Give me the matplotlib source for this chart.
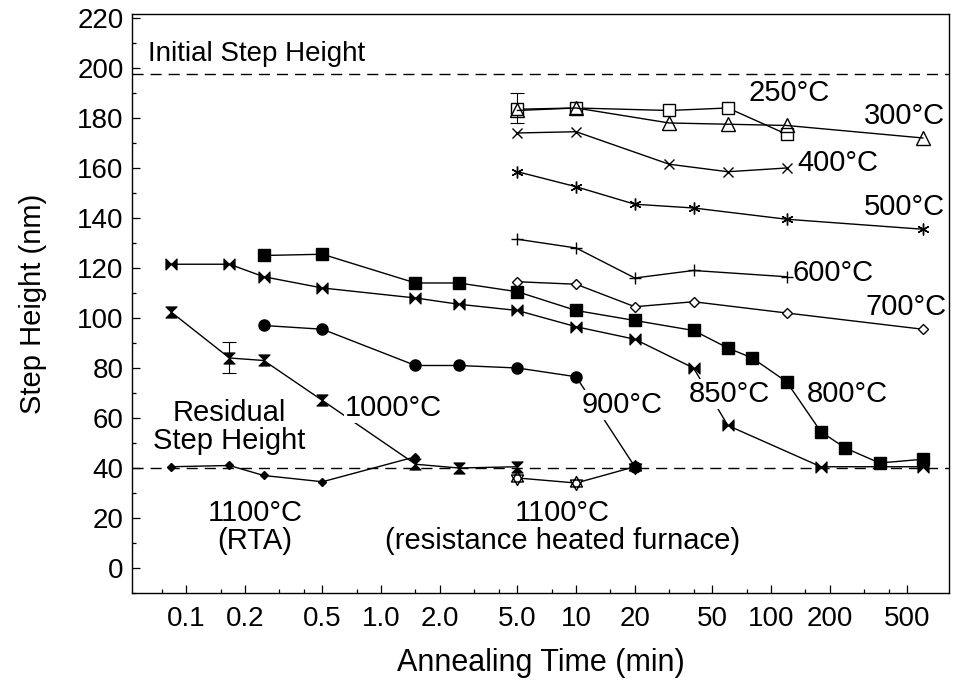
import matplotlib
matplotlib.use("Agg")
import matplotlib.pyplot as plt
from matplotlib.path import Path
from matplotlib.ticker import FixedLocator, NullFormatter
import numpy as np

plt.rcParams['font.family'] = ['Liberation Sans', 'DejaVu Sans']

# ---- data: annealing time (min) and step height (nm) ----
t_250 = [5, 10, 30, 60, 120]
h_250 = [183.5, 184, 183, 184, 173.5]

t_300 = [5, 10, 30, 60, 120, 600]
h_300 = [183, 184, 178, 177.5, 177, 172]

t_400 = [5, 10, 30, 60, 120]
h_400 = [174, 174.5, 161.5, 158.5, 160]

t_500 = [5, 10, 20, 40, 120, 600]
h_500 = [158.5, 152.5, 145.5, 144, 139.5, 135.5]

t_600 = [5, 10, 20, 40, 120]
h_600 = [131.5, 128, 116, 119, 116.5]

t_700 = [5, 10, 20, 40, 120, 600]
h_700 = [114.5, 113.5, 104.5, 106.5, 102, 95.5]

t_800 = [0.25, 0.5, 1.5, 2.5, 5, 10, 20, 40, 60, 80, 120, 180, 240, 360, 600]
h_800 = [125, 125.5, 114, 114, 110.5, 103, 99, 95, 88, 84, 74.5, 54.5, 48, 42, 43.5]

t_850 = [1/12, 1/6, 0.25, 0.5, 1.5, 2.5, 5, 10, 20, 40, 60, 180, 600]
h_850 = [121.5, 121.5, 116.5, 112, 108, 105.5, 103, 96.5, 91.5, 80, 57, 40.5, 40.5]

t_900 = [0.25, 0.5, 1.5, 2.5, 5, 10, 20]
h_900 = [97, 95.5, 81, 81, 80, 76.5, 40.5]

t_1000 = [1/12, 1/6, 0.25, 0.5, 1.5, 2.5, 5]
h_1000 = [102.5, 84, 83, 67, 41.5, 40, 40.5]

t_1100_rta = [1/12, 1/6, 0.25, 0.5, 1.5]
h_1100_rta = [40.5, 41, 37, 34.5, 44.5]

t_1100_furnace = [5, 10, 20]
h_1100_furnace = [36, 34, 40.5]

# error bars
err_250_t, err_250_h, err_250_e = 5, 184, 6
err_1000_t, err_1000_h, err_1000_e = 1/6, 84.3, 6.2

initial_height = 197.5
residual_height = 40

major_ticks = [0.1, 0.2, 0.5, 1, 2, 5, 10, 20, 50, 100, 200, 500]
major_labels = ['0.1', '0.2', '0.5', '1.0', '2.0', '5.0', '10', '20', '50', '100', '200', '500']
minor_ticks = [0.075, 0.15, 0.3, 0.4, 0.75, 1.5, 3, 4, 7.5, 15, 30, 40, 75, 150, 300, 400]

# ---- custom markers ----
M, L, C = Path.MOVETO, Path.LINETO, Path.CLOSEPOLY
bowtie = Path([(-1, -1), (-1, 1), (0, 0), (-1, -1), (1, -1), (1, 1), (0, 0), (1, -1)],
              [M, L, L, C, M, L, L, C])
hourglass = Path([(-1, 1), (1, 1), (0, 0), (-1, 1), (-1, -1), (1, -1), (0, 0), (-1, -1)],
                 [M, L, L, C, M, L, L, C])
ang_up = np.deg2rad([90, 210, 330])
ang_dn = np.deg2rad([270, 30, 150])
hex_verts = ([(np.cos(a), np.sin(a)) for a in ang_up] + [(0, 1)] +
             [(np.cos(a), np.sin(a)) for a in ang_dn] + [(0, -1)])
hexagram = Path(hex_verts, [M, L, L, C, M, L, L, C])

fig = plt.figure(figsize=(9.56, 6.85), dpi=100)
ax = fig.add_axes([0.138, 0.1343, 0.855, 0.8453])

lw = 1.0
common = dict(color='black', lw=lw, zorder=3)

ax.plot(t_250, h_250, marker='s', ms=8.5, mfc='white', mec='black', mew=1.0, **common)
ax.plot(t_300, h_300, marker='^', ms=9.5, mfc='none', mec='black', mew=1.0, **common)
ax.plot(t_400, h_400, marker='x', ms=7, mec='black', mew=1.0, **common)
ax.plot(t_500, h_500, marker=(6, 2, 0), ms=8.5, mec='black', mew=1.0, **common)
ax.plot(t_600, h_600, marker='+', ms=8.5, mec='black', mew=1.0, **common)
ax.plot(t_700, h_700, marker='D', ms=5, mfc='white', mec='black', mew=1.0, **common)
ax.plot(t_800, h_800, marker='s', ms=8.5, mfc='black', mec='black', **common)
ax.plot(t_850, h_850, marker=bowtie, ms=8, mfc='black', mec='black', mew=0.8, **common)
ax.plot(t_1100_furnace, h_1100_furnace, marker=hexagram, ms=10, mfc='white', mec='black',
        mew=1.0, **common)
ax.plot(t_900, h_900, marker='o', ms=8, mfc='black', mec='black', **common)
ax.plot(t_1000, h_1000, marker=hourglass, ms=8, mfc='black', mec='black', mew=0.8, **common)
ax.plot(t_1100_rta, h_1100_rta, marker='D', ms=4.5, mfc='black', mec='black', **common)

ax.errorbar([err_250_t], [err_250_h], yerr=[err_250_e], fmt='none', ecolor='black',
            elinewidth=0.8, capsize=5, capthick=0.8, zorder=2)
ax.errorbar([err_1000_t], [err_1000_h], yerr=[err_1000_e], fmt='none', ecolor='black',
            elinewidth=0.8, capsize=5, capthick=0.8, zorder=2)

# reference lines
ax.axhline(initial_height, color='black', lw=1.0, ls=(0, (8, 5)), zorder=1)
ax.axhline(residual_height, color='black', lw=1.0, ls=(0, (8, 5)), zorder=1)

# ---- axes ----
ax.set_xscale('log')
ax.set_xlim(0.0527, 820)
ax.set_ylim(-10, 221.6)
ax.xaxis.set_major_locator(FixedLocator(major_ticks))
ax.set_xticklabels(major_labels)
ax.xaxis.set_minor_locator(FixedLocator(minor_ticks))
ax.xaxis.set_minor_formatter(NullFormatter())
ax.set_yticks(np.arange(0, 221, 20))
ax.yaxis.set_minor_locator(FixedLocator(np.arange(-10, 221, 10)))

ax.tick_params(which='both', direction='in', top=False, right=False, labelsize=20,
               width=0.9)
ax.tick_params(which='major', length=6)
ax.tick_params(which='minor', length=3)
ax.tick_params(axis='x', which='major', pad=9)
ax.tick_params(axis='y', which='major', pad=6)
for s in ax.spines.values():
    s.set_linewidth(1.0)

ax.set_xlabel('Annealing Time (min)', fontsize=22, labelpad=12)
ax.set_ylabel('Step Height (nm)', fontsize=21, labelpad=22)

# ---- annotations ----
fs = 21
box = dict(facecolor='white', edgecolor='none', pad=0.5)
ax.text(0.0637, 205.5, 'Initial Step Height', fontsize=20, ha='left', va='center', zorder=5)
ax.text(76.3, 190, '250°C', fontsize=fs, ha='left', va='center', zorder=5)
ax.text(481, 180.8, '300°C', fontsize=fs, ha='center', va='center', zorder=5)
ax.text(221, 162, '400°C', fontsize=fs, ha='center', va='center', zorder=5)
ax.text(481, 144.4, '500°C', fontsize=fs, ha='center', va='center', zorder=5)
ax.text(208, 118, '600°C', fontsize=fs, ha='center', va='center', zorder=5)
ax.text(493, 104.4, '700°C', fontsize=fs, ha='center', va='center', zorder=5)
ax.text(245.6, 69.6, '800°C', fontsize=fs, ha='center', va='center', zorder=5)
ax.text(60.9, 69.6, '850°C', fontsize=fs, ha='center', va='center', zorder=5, bbox=box)
ax.text(17.2, 65.2, '900°C', fontsize=fs, ha='center', va='center', zorder=5, bbox=box)
ax.text(1.151, 64, '1000°C', fontsize=fs, ha='center', va='center', zorder=5, bbox=box)
ax.text(0.1658, 56.4, 'Residual\nStep Height', fontsize=fs, ha='center', va='center',
        multialignment='center', linespacing=0.98, zorder=5)
ax.text(0.2253, 16.4, '1100°C\n(RTA)', fontsize=fs, ha='center', va='center',
        multialignment='center', linespacing=1.02, zorder=5)
ax.text(8.48, 16.4, '1100°C\n(resistance heated furnace)', fontsize=fs, ha='center',
        va='center', multialignment='center', linespacing=1.02, zorder=5)

fig.savefig('out.png', dpi=100)
